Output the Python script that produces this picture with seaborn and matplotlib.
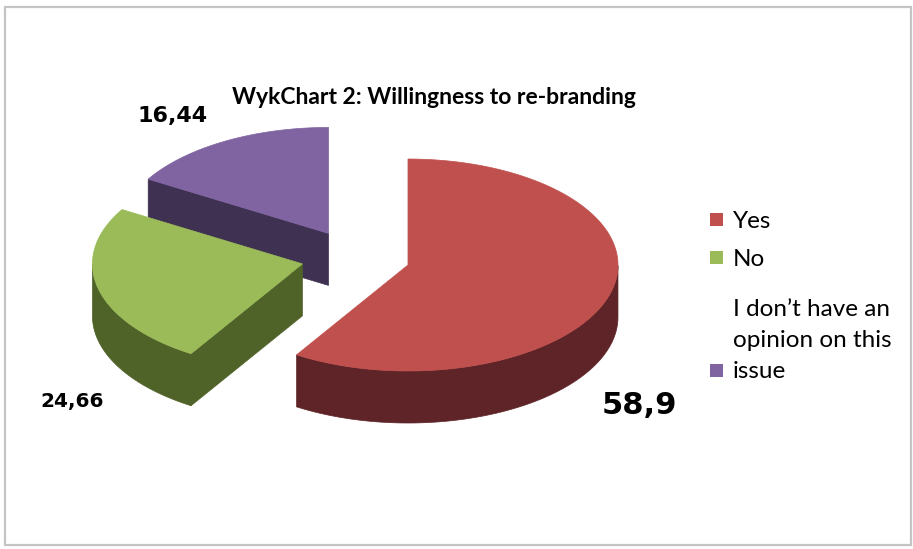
import numpy as np
import matplotlib
matplotlib.use("Agg")
import matplotlib.pyplot as plt
from matplotlib.patches import Polygon, Rectangle
import seaborn as sns

# Survey answers
categories = ["Yes", "No", "I don’t have an\nopinion on this\nissue"]
values = [58.9, 24.66, 16.44]
top_colors = ["#C0504D", "#9BBB59", "#8064A2"]
side_colors = ["#5E2427", "#4F6228", "#3F3151"]
title = "WykChart 2: Willingness to re-branding"

sns.set_theme(style="white")
plt.rcParams["font.family"] = ["Lato", "DejaVu Sans"]

W, H = 913, 549
fig = plt.figure(figsize=(W / 100, H / 100), dpi=100)
ax = fig.add_axes([0, 0, 1, 1])
ax.set_xlim(0, W)
ax.set_ylim(H, 0)
ax.axis("off")

# Outer frame of the chart area
fig.patches.append(Rectangle((5 / W, 1 - 545 / H), 906 / W, 538 / H,
                             transform=fig.transFigure, fill=False,
                             edgecolor="#C4C4C4", linewidth=1.6))

# Pie geometry (pixels): centre, radii of the tilted disc, thickness, explosion
CX, CY = 355.5, 257.4
RX, RY = 210.0, 106.0
DEPTH = 52.0
EXPLODE = 0.26


def rim(theta, cx, cy, dz=0.0):
    t = np.radians(theta)
    return np.column_stack([cx + RX * np.cos(t), cy - RY * np.sin(t) + dz])


total = sum(values)
start = 90.0
slices = []
for v in values:
    sweep = 360.0 * v / total
    slices.append((start - sweep, start))   # clockwise from 12 o'clock
    start -= sweep

# draw back slices first
order = sorted(range(len(values)),
               key=lambda i: -np.sin(np.radians(sum(slices[i]) / 2)))
for i in order:
    a, b = slices[i]
    mid = np.radians((a + b) / 2)
    cx = CX + EXPLODE * RX * np.cos(mid)
    cy = CY - EXPLODE * RY * np.sin(mid)
    apex = np.array([[cx, cy]])

    # radial cut faces facing the viewer
    for ang, normal in ((a, a - 90), (b, b + 90)):
        if np.sin(np.radians(normal)) < -1e-6:
            p = rim(ang, cx, cy)[0]
            face = np.array([[cx, cy], p, p + [0, DEPTH], [cx, cy + DEPTH]])
            ax.add_patch(Polygon(face, closed=True, facecolor=side_colors[i],
                                 edgecolor=side_colors[i], lw=0.5))

    # outer curved wall, front half only (sin(theta) < 0)
    th = np.linspace(a, b, 400)
    vis = np.sin(np.radians(th)) < 0
    segs = []
    if vis.any():
        idx = np.where(vis)[0]
        run_start = idx[0]
        for k in range(1, len(idx) + 1):
            if k == len(idx) or idx[k] != idx[k - 1] + 1:
                segs.append(th[run_start:idx[k - 1] + 1])
                if k < len(idx):
                    run_start = idx[k]
    for seg in segs:
        top = rim(seg, cx, cy)
        bot = rim(seg[::-1], cx, cy, DEPTH)
        ax.add_patch(Polygon(np.vstack([top, bot]), closed=True,
                             facecolor=side_colors[i], edgecolor=side_colors[i],
                             lw=0.5))

    # top face
    arc = rim(np.linspace(a, b, 300), cx, cy)
    ax.add_patch(Polygon(np.vstack([apex, arc]), closed=True,
                         facecolor=top_colors[i], edgecolor=top_colors[i],
                         lw=0.5))

# value labels
label_pos = [(639, 405, 22), (72, 402, 14.5), (173, 116, 16)]
for v, (lx, ly, fs) in zip(values, label_pos):
    ax.text(lx, ly, f"{v:g}".replace(".", ","), ha="center", va="center",
            fontsize=fs, fontweight="bold", family=["DejaVu Sans"],
            color="black")

ax.text(434, 97, title, ha="center", va="center", fontsize=16.5,
        fontweight="bold", color="black")

# legend
leg_rows = [220, 258, 371]
for lab, col, y in zip(categories, top_colors, leg_rows):
    ax.add_patch(Rectangle((710, y - 7), 13, 13, facecolor=col,
                           edgecolor="none"))
    if "\n" in lab:
        ax.text(733, y + 7, lab, ha="left", va="baseline", fontsize=17.5,
                color="black", linespacing=1.6)
    else:
        ax.text(733, y + 1, lab, ha="left", va="center", fontsize=17.5,
                color="black")

fig.savefig("out.png", dpi=100, facecolor="white")
